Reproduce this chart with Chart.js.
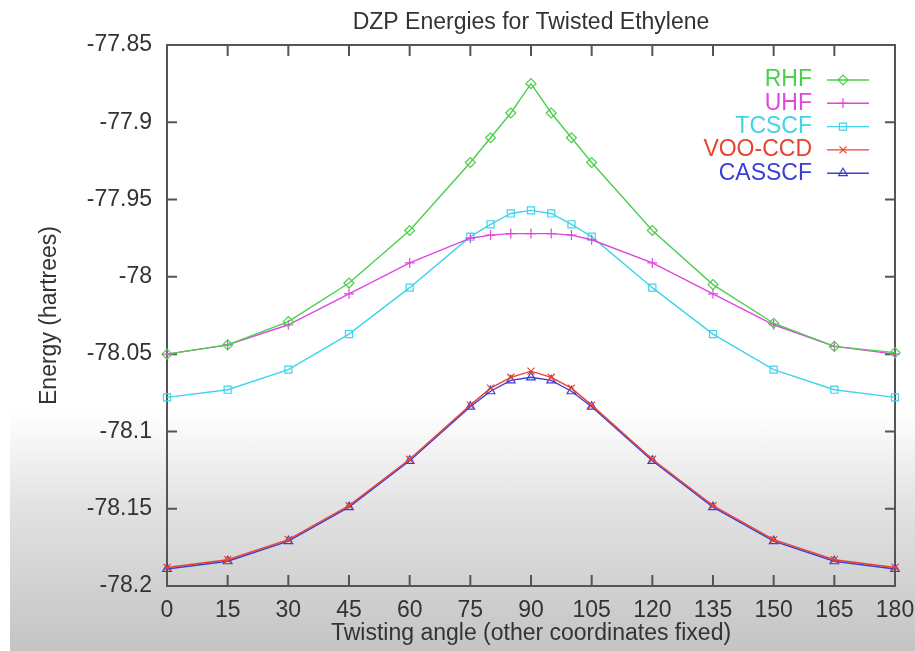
<!DOCTYPE html>
<html>
<head>
<meta charset="utf-8">
<title>DZP Energies for Twisted Ethylene</title>
<script src="https://cdn.jsdelivr.net/npm/chart.js@4.4.1/dist/chart.umd.min.js"></script>
<style>
    html, body { margin: 0; padding: 0; background: #fff; }
    #wrap { position: relative; width: 915px; height: 651px; overflow: hidden; }
    #shade {
        position: absolute; left: 10px; right: 0; top: 410px; bottom: 0;
        background: linear-gradient(to bottom, rgba(255,255,255,1) 0%, #e2e2e2 40%, #c4c4c4 100%);
    }
    #chart { position: absolute; left: 0; top: 0; }
</style>
</head>
<body>
<div id="wrap">
    <div id="shade"></div>
    <canvas id="chart" width="915" height="651"></canvas>
</div>
<script>
// 数据
const angles = [0, 15, 30, 45, 60, 75, 80, 85, 90, 95, 100, 105, 120, 135, 150, 165, 180];

const rhf    = [-78.050, -78.044, -78.029, -78.004, -77.970, -77.926, -77.910, -77.894, -77.875, -77.894, -77.910, -77.926, -77.970, -78.005, -78.030, -78.045, -78.049];
const uhf    = [-78.050, -78.044, -78.031, -78.011, -77.991, -77.975, -77.973, -77.972, -77.972, -77.972, -77.973, -77.976, -77.991, -78.011, -78.031, -78.045, -78.050];
const tcscf  = [-78.078, -78.073, -78.060, -78.037, -78.007, -77.974, -77.966, -77.959, -77.957, -77.959, -77.966, -77.974, -78.007, -78.037, -78.060, -78.073, -78.078];
const vooccd = [-78.188, -78.183, -78.170, -78.148, -78.118, -78.083, -78.072, -78.065, -78.061, -78.065, -78.072, -78.083, -78.118, -78.148, -78.170, -78.183, -78.188];
const casscf = [-78.189, -78.184, -78.171, -78.149, -78.119, -78.084, -78.074, -78.067, -78.065, -78.067, -78.074, -78.084, -78.119, -78.149, -78.171, -78.184, -78.189];

const xTicks = [0, 15, 30, 45, 60, 75, 90, 105, 120, 135, 150, 165, 180];
const yTicks = [-78.2, -78.15, -78.1, -78.05, -78, -77.95, -77.9, -77.85];

const FONT = "'Liberation Sans', Arial, Helvetica, sans-serif";
const TEXT = '#333';

function toPoints(values) {
    return angles.map((a, i) => ({ x: a, y: values[i] }));
}

function series(label, values, color, style) {
    return {
        label: label,
        data: toPoints(values),
        borderColor: color,
        backgroundColor: 'rgba(0,0,0,0)',
        borderWidth: 1.4,
        pointStyle: style,
        pointRadius: 5,
        pointBorderWidth: 1.2,
        pointBorderColor: color,
        pointBackgroundColor: 'rgba(0,0,0,0)',
        tension: 0,
        clip: false
    };
}

// 外框 + 向内的刻度
const framePlugin = {
    id: 'frame',
    beforeDatasetsDraw(chart) {
        const { ctx, chartArea: a, scales } = chart;
        ctx.save();
        ctx.strokeStyle = '#555';
        ctx.lineWidth = 2;
        ctx.strokeRect(a.left, a.top, a.right - a.left, a.bottom - a.top);
        ctx.beginPath();
        xTicks.forEach(v => {
            const x = scales.x.getPixelForValue(v);
            ctx.moveTo(x, a.bottom); ctx.lineTo(x, a.bottom - 11);
            ctx.moveTo(x, a.top); ctx.lineTo(x, a.top + 11);
        });
        yTicks.forEach(v => {
            const y = scales.y.getPixelForValue(v);
            ctx.moveTo(a.left, y); ctx.lineTo(a.left + 10, y);
            ctx.moveTo(a.right, y); ctx.lineTo(a.right - 10, y);
        });
        ctx.stroke();
        ctx.restore();
    }
};

// 标题 + 右上角图例 (gnuplot style: text right, sample on the right)
const titleLegendPlugin = {
    id: 'titleLegend',
    afterDraw(chart) {
        const { ctx, chartArea: a } = chart;
        ctx.save();
        ctx.font = '23px ' + FONT;
        ctx.fillStyle = TEXT;
        ctx.textAlign = 'center';
        ctx.textBaseline = 'middle';
        ctx.fillText('DZP Energies for Twisted Ethylene', (a.left + a.right) / 2, 23);

        ctx.textAlign = 'right';
        chart.data.datasets.forEach((ds, i) => {
            const y = a.top + 35 + i * 23.3;
            ctx.fillStyle = ds.borderColor;
            ctx.fillText(ds.label, a.right - 83, y);
            ctx.strokeStyle = ds.borderColor;
            ctx.lineWidth = 1.4;
            ctx.beginPath();
            ctx.moveTo(a.right - 68, y);
            ctx.lineTo(a.right - 26, y);
            ctx.stroke();
            if (Chart.helpers && Chart.helpers.drawPoint) {
                ctx.lineWidth = 1.2;
                ctx.fillStyle = 'rgba(0,0,0,0)';
                Chart.helpers.drawPoint(ctx, {
                    pointStyle: ds.pointStyle,
                    radius: 5,
                    borderWidth: 1.2,
                    rotation: 0
                }, a.right - 52, y);
            }
        });
        ctx.restore();
    }
};

new Chart(document.getElementById('chart'), {
    type: 'line',
    data: {
        datasets: [
            series('RHF', rhf, '#4ccf4c', 'rectRot'),
            series('UHF', uhf, '#e046e0', 'cross'),
            series('TCSCF', tcscf, '#3fd4ea', 'rect'),
            series('VOO-CCD', vooccd, '#e8432f', 'crossRot'),
            series('CASSCF', casscf, '#3a3ed8', 'triangle')
        ]
    },
    options: {
        responsive: false,
        animation: false,
        layout: { padding: { top: 45, right: 20, left: 0, bottom: 0 } },
        plugins: {
            legend: { display: false },
            title: { display: false },
            tooltip: { enabled: false }
        },
        scales: {
            x: {
                type: 'linear',
                min: 0,
                max: 180,
                grid: { display: false, drawTicks: false },
                border: { display: false },
                afterBuildTicks: s => { s.ticks = xTicks.map(v => ({ value: v })); },
                afterFit: s => { s.height = 65; s.paddingLeft = 0; s.paddingRight = 0; },
                ticks: {
                    autoSkip: false,
                    maxRotation: 0,
                    padding: 11,
                    color: TEXT,
                    font: { family: FONT, size: 23 },
                    callback: v => String(v)
                },
                title: {
                    display: true,
                    text: 'Twisting angle (other coordinates fixed)',
                    color: TEXT,
                    font: { family: FONT, size: 23 },
                    padding: { top: 0, bottom: 4 }
                }
            },
            y: {
                type: 'linear',
                min: -78.2,
                max: -77.85,
                grid: { display: false, drawTicks: false },
                border: { display: false },
                afterBuildTicks: s => { s.ticks = yTicks.map(v => ({ value: v })); },
                afterFit: s => { s.width = 167; },
                ticks: {
                    autoSkip: false,
                    padding: 15,
                    color: TEXT,
                    font: { family: FONT, size: 23 },
                    callback: v => String(+Number(v).toFixed(2))
                },
                title: {
                    display: true,
                    text: 'Energy (hartrees)',
                    color: TEXT,
                    font: { family: FONT, size: 23 },
                    padding: { top: 36, bottom: 0 }
                }
            }
        }
    },
    plugins: [framePlugin, titleLegendPlugin]
});
</script>
</body>
</html>
